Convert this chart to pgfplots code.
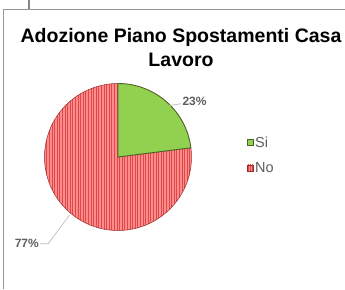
\documentclass[border=0pt]{standalone}
\usepackage{fontspec}
\setmainfont{Liberation Sans}
\usepackage{pgfplots}
\pgfplotsset{compat=1.18}
\usepackage{pgfplotstable}
\usetikzlibrary{patterns.meta}

\pgfplotstableread{
label value
Si 23
No 77
}\piedata

\definecolor{siGreen}{RGB}{146,208,80}
\definecolor{siEdge}{RGB}{79,98,40}
\definecolor{noFill}{RGB}{255,140,140}
\definecolor{noLine}{RGB}{222,72,72}
\definecolor{noEdge}{RGB}{150,45,45}
\definecolor{lblGray}{RGB}{95,95,95}
\definecolor{leadGray}{RGB}{190,190,190}
\definecolor{boxGray}{RGB}{150,150,150}

\begin{document}
\begin{tikzpicture}[x=1pt,y=1pt]
\path[use as bounding box, fill=white] (0,0) rectangle (345,289);
\draw[boxGray, line width=0.9] (3.5,0) -- (3.5,279.5) -- (345,279.5);
\draw[boxGray!90!black, line width=2.6] (29,289) -- (29,279.5);
% title
\node[font=\bfseries\fontsize{19.5}{24}\selectfont, anchor=base] at (181,246) {Adozione Piano Spostamenti Casa};
\node[font=\bfseries\fontsize{19.5}{24}\selectfont, anchor=base] at (181,222) {Lavoro};
\pgfplotstablegetelem{0}{value}\of\piedata \let\vSi\pgfplotsretval
\pgfplotstablegetelem{1}{value}\of\piedata \let\vNo\pgfplotsretval
\pgfmathsetmacro\aStart{90}
\pgfmathsetmacro\aMid{90-3.6*\vSi}
\pgfmathsetmacro\aEnd{\aMid-3.6*\vNo}
\begin{axis}[at={(118pt,132pt)}, anchor=origin, scale only axis,
  width=147pt, height=147pt, xmin=-1, xmax=1, ymin=-1, ymax=1,
  hide axis, clip=false]
  % No slice
  \fill[noFill] (axis cs:0,0) -- (axis cs:{cos(\aMid)},{sin(\aMid)})
     arc[start angle=\aMid, end angle=\aEnd, radius=73.5pt] -- cycle;
  \fill[pattern={Lines[angle=90, distance=2.6pt, line width=0.8pt]}, pattern color=noLine]
     (axis cs:0,0) -- (axis cs:{cos(\aMid)},{sin(\aMid)})
     arc[start angle=\aMid, end angle=\aEnd, radius=73.5pt] -- cycle;
  \draw[noEdge, line width=0.5] (axis cs:0,0) -- (axis cs:{cos(\aMid)},{sin(\aMid)})
     arc[start angle=\aMid, end angle=\aEnd, radius=73.5pt] -- cycle;
  % Si slice
  \filldraw[fill=siGreen, draw=siEdge, line width=0.9] (axis cs:0,0) -- (axis cs:{cos(\aStart)},{sin(\aStart)})
     arc[start angle=\aStart, end angle=\aMid, radius=73.5pt] -- cycle;
  % leaders and labels
  \draw[leadGray, line width=0.7] (axis cs:0.70,0.70) -- (axis cs:0.86,0.725);
  \node[anchor=west, inner sep=0pt, text=lblGray, font=\bfseries\fontsize{12}{14}\selectfont] at (axis cs:0.875,0.76) {23\%};
  \draw[leadGray, line width=0.7] (axis cs:-0.66,-0.79) -- (axis cs:-0.95,-1.18) -- (axis cs:-1.06,-1.18);
  \node[anchor=east, inner sep=0pt, text=lblGray, font=\bfseries\fontsize{12}{14}\selectfont] at (axis cs:-1.075,-1.17) {77\%};
\end{axis}
% legend
\filldraw[fill=siGreen, draw=siEdge, line width=0.6] (247.5,144) rectangle (253.5,150);
\node[anchor=west, inner sep=0pt, text=lblGray, font=\fontsize{14.5}{16}\selectfont] at (255,147) {Si};
\fill[noFill] (247.5,118) rectangle (253.5,124);
\fill[pattern={Lines[angle=90, distance=2pt, line width=0.7pt]}, pattern color=noLine] (247.5,118) rectangle (253.5,124);
\draw[noEdge, line width=0.6] (247.5,118) rectangle (253.5,124);
\node[anchor=west, inner sep=0pt, text=lblGray, font=\fontsize{14.5}{16}\selectfont] at (255,121) {No};
\end{tikzpicture}
\end{document}
